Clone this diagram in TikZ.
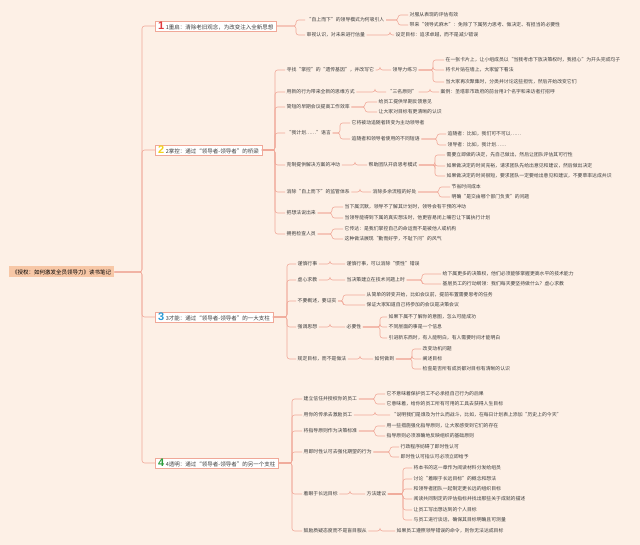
\documentclass[tikz,border=0pt]{standalone}
\usepackage{fontspec}
\setmainfont{Noto Sans CJK SC}
\newfontfamily\numfont{Liberation Sans}
\usetikzlibrary{calc}
\definecolor{bg}{HTML}{FDF0E6}
\definecolor{lk}{HTML}{F0A898}
\definecolor{txt}{HTML}{3C3C3C}
\definecolor{rootfill}{HTML}{F7C7A6}
\definecolor{cA}{HTML}{E03A3E}
\definecolor{cB}{HTML}{F2D21B}
\definecolor{cC}{HTML}{2A9BD6}
\definecolor{cD}{HTML}{2E9E3E}
\newcommand\conn[3]{\draw[link] let \p1=(#1.east) in (\p1) -- (#3,\y1) |- (#2.west);}
\newcommand\dig[2]{{\numfont\bfseries\fontsize{11}{11}\selectfont\color{#1}#2}\hspace{1.5pt}}
\tikzset{
  leaf/.style={anchor=west, inner sep=1.5pt, font=\fontsize{4.85}{5.5}\selectfont, text=txt},
  sec/.style={anchor=west, draw=lk, fill=white, line width=0.4pt, inner xsep=3pt, inner ysep=0.5pt, minimum height=10.5pt, font=\fontsize{5.5}{6}\selectfont, text=txt},
  rootbox/.style={anchor=west, fill=rootfill, inner xsep=3pt, inner ysep=1pt, minimum height=11pt, font=\fontsize{5.5}{6}\selectfont, text=black},
  link/.style={draw=lk, line width=0.55pt, rounded corners=2.5pt},
}
\begin{document}
\begin{tikzpicture}[x=1pt,y=-1pt]
\useasboundingbox (0,0) rectangle (640,545);
\fill[bg] (0,0) rectangle (640,545);

% root
\node[rootbox] (R) at (9,272) {《授权：如何激发全员领导力》读书笔记};

% sections
\node[sec] (S1) at (155,26) {\dig{cA}{1}1重启：清除老旧观念，为改变注入全新思想};
\node[sec] (S2) at (155,150) {\dig{cB}{2}2掌控：通过“领导者-领导者”的桥梁};
\node[sec] (S3) at (155,317) {\dig{cC}{3}3才能：通过“领导者-领导者”的一大支柱};
\node[sec] (S4) at (155,463) {\dig{cD}{4}4透明：通过“领导者-领导者”的另一个支柱};
\foreach \s in {S1,S2,S3,S4} {\conn{R}{\s}{142}}

% ---------- section 1
\node[leaf] (s1a) at (305,20) {“自上而下”的领导模式为何吸引人};
\node[leaf] (s1a1) at (408,15) {对服从表现的评估有效};
\node[leaf] (s1a2) at (408,25) {带来“领导式麻木”：免除了下属努力思考、做决定、有担当的必要性};
\node[leaf] (s1b) at (305,35) {审视认识，对未来进行估量};
\node[leaf] (s1b1) at (394,35) {设定目标：追求卓越，而不是减少错误};
\conn{S1}{s1a}{296}\conn{S1}{s1b}{296}
\conn{s1a}{s1a1}{398}\conn{s1a}{s1a2}{398}
\conn{s1b}{s1b1}{390}

% ---------- section 2
\node[leaf] (s2a) at (285,70) {寻找“掌控”的“遗传基因”，并改写它};
\node[leaf] (s2a1) at (391,70) {领导力练习};
\node[leaf] (s2a1a) at (444,60) {在一张卡片上，让小组成员以“当我考虑下放决策权时，我担心”为开头完成句子};
\node[leaf] (s2a1b) at (444,70) {将卡片贴在墙上，大家留下看法};
\node[leaf] (s2a1c) at (444,82) {当大家再次聚集时，分类并讨论这些担忧，然后开始改变它们};
\node[leaf] (s2b) at (285,92) {用新的行为带来全新的思维方式};
\node[leaf] (s2b1) at (386,92) {“三名原则”};
\node[leaf] (s2b1a) at (439,92) {案例：圣塔菲市政府的前台用3个名字和来访者打招呼};
\node[leaf] (s2c) at (285,107) {简短的早期会议提高工作效率};
\node[leaf] (s2c1) at (377,102) {给员工提供早期反馈意见};
\node[leaf] (s2c2) at (377,112) {让大家对目标有更清晰的认识};
\node[leaf] (s2d) at (285,133) {“我计划……”语言};
\node[leaf] (s2d1) at (350,123) {它将被动追随者转变为主动领导者};
\node[leaf] (s2d2) at (350,139) {追随者和领导者使用的不同短语};
\node[leaf] (s2d2a) at (446,134) {追随者：比如，我们可不可以……};
\node[leaf] (s2d2b) at (446,145) {领导者：比如，我计划……};
\node[leaf] (s2e) at (285,165) {克制提供解决方案的冲动};
\node[leaf] (s2e1) at (367,165) {帮助团队开启思考模式};
\node[leaf] (s2e1a) at (445,155) {需要立即做的决定，先自己做出，然后让团队评估其可行性};
\node[leaf] (s2e1b) at (445,166) {如果做决定的时间充裕，请求团队先给出意见和建议，然后做出决定};
\node[leaf] (s2e1c) at (445,176) {如果做决定的时间很短，要求团队一定要给出意见和建议，不要草率达成共识};
\node[leaf] (s2f) at (285,192) {消除“自上而下”的监管体系};
\node[leaf] (s2f1) at (371,192) {消除多余流程的好处};
\node[leaf] (s2f1a) at (450,187) {节省时间成本};
\node[leaf] (s2f1b) at (450,197) {明确“是交由哪个部门负责”的问题};
\node[leaf] (s2g) at (285,213) {把想法说出来};
\node[leaf] (s2g1) at (343,207) {当下属沉默，领导不了解其计划时，领导会有干预的冲动};
\node[leaf] (s2g2) at (343,218) {当领导能得到下属的真实想法时，他更容易闭上嘴巴让下属执行计划};
\node[leaf] (s2h) at (285,234) {拥抱检查人员};
\node[leaf] (s2h1) at (343,229) {它传达：是我们掌控自己的命运而不是被他人或机构};
\node[leaf] (s2h2) at (343,239) {这种做法展现“勤而好学，不耻下问”的风气};
\foreach \c in {s2a,s2b,s2c,s2d,s2e,s2f,s2g,s2h} {\conn{S2}{\c}{275}}
\conn{s2a}{s2a1}{380}
\foreach \c in {s2a1a,s2a1b,s2a1c} {\conn{s2a1}{\c}{433}}
\conn{s2b}{s2b1}{375}\conn{s2b1}{s2b1a}{430}
\conn{s2c}{s2c1}{365}\conn{s2c}{s2c2}{365}
\conn{s2d}{s2d1}{340}\conn{s2d}{s2d2}{340}
\conn{s2d2}{s2d2a}{437}\conn{s2d2}{s2d2b}{437}
\conn{s2e}{s2e1}{355}
\foreach \c in {s2e1a,s2e1b,s2e1c} {\conn{s2e1}{\c}{435}}
\conn{s2f}{s2f1}{360}
\conn{s2f1}{s2f1a}{439}\conn{s2f1}{s2f1b}{439}
\conn{s2g}{s2g1}{332}\conn{s2g}{s2g2}{332}
\conn{s2h}{s2h1}{332}\conn{s2h}{s2h2}{332}

% ---------- section 3
\node[leaf] (s3a) at (296,264) {谨慎行事};
\node[leaf] (s3a1) at (345,264) {谨慎行事，可以消除“惯性”错误};
\node[leaf] (s3b) at (296,280) {虚心求教};
\node[leaf] (s3b1) at (345,280) {当决策建立在技术问题上时};
\node[leaf] (s3b1a) at (441,274) {给下属更多的决策权，他们必须能够掌握更高水平的技术能力};
\node[leaf] (s3b1b) at (441,284) {基层员工的行动纲领：我们每天要坚持做什么？虚心求教};
\node[leaf] (s3c) at (296,301) {不要概述，要证实};
\node[leaf] (s3c1) at (365,295) {从简单的转变开始，比如会议前，提前布置需要思考的任务};
\node[leaf] (s3c2) at (365,305) {保证大家知道自己将参加的会议是决策会议};
\node[leaf] (s3d) at (296,327) {强调思想};
\node[leaf] (s3d1) at (345,327) {必要性};
\node[leaf] (s3d1a) at (387,317) {如果下属不了解你的意图，怎么可能成功};
\node[leaf] (s3d1b) at (387,327) {不同层面的事是一个信息};
\node[leaf] (s3d1c) at (387,338) {引进新东西时，有人能明白，有人需要时间才能明白};
\node[leaf] (s3e) at (296,359) {规定目标，而不是做法};
\node[leaf] (s3e1) at (373,359) {如何做到};
\node[leaf] (s3e1a) at (421,349) {改变动机问题};
\node[leaf] (s3e1b) at (421,359) {阐述目标};
\node[leaf] (s3e1c) at (421,369) {检查是否所有成员都对目标有清晰的认识};
\foreach \c in {s3a,s3b,s3c,s3d,s3e} {\conn{S3}{\c}{287}}
\conn{s3a}{s3a1}{330}
\conn{s3b}{s3b1}{330}
\conn{s3b1}{s3b1a}{422}\conn{s3b1}{s3b1b}{422}
\conn{s3c}{s3c1}{343}\conn{s3c}{s3c2}{343}
\conn{s3d}{s3d1}{330}
\foreach \c in {s3d1a,s3d1b,s3d1c} {\conn{s3d1}{\c}{380}}
\conn{s3e}{s3e1}{360}
\foreach \c in {s3e1a,s3e1b,s3e1c} {\conn{s3e1}{\c}{412}}

% ---------- section 4
\node[leaf] (s4a) at (302,399) {建立信任并授权你的员工};
\node[leaf] (s4a1) at (385,394) {它不意味着保护员工不必承担自己行为的后果};
\node[leaf] (s4a2) at (385,404) {它意味着，给你的员工所有可用的工具去获得人生目标};
\node[leaf] (s4b) at (302,415) {用你的传承去激励员工};
\node[leaf] (s4b1) at (390,415) {“说明我们是谁及为什么而战斗，比如，在每日计划表上添加“历史上的今天”};
\node[leaf] (s4c) at (302,431) {将指导原则作为决策标准};
\node[leaf] (s4c1) at (385,426) {用一些措施强化指导原则，让大家感受到它们的存在};
\node[leaf] (s4c2) at (385,436) {指导原则必须准确地反映组织的基础原则};
\node[leaf] (s4d) at (302,452) {用即时性认可去强化期望的行为};
\node[leaf] (s4d1) at (399,447) {行政程序妨碍了即时性认可};
\node[leaf] (s4d2) at (399,457) {即时性认可指认可必须立即给予};
\node[leaf] (s4e) at (302,494) {着眼于长远目标};
\node[leaf] (s4e1) at (365,494) {方法建议};
\node[leaf] (s4e1a) at (412,468) {将本书的这一章作为阅读材料分发给组员};
\node[leaf] (s4e1b) at (412,479) {讨论“着眼于长远目标”的概念和想法};
\node[leaf] (s4e1c) at (412,489) {和领导者团队一起制定更长远的组织目标};
\node[leaf] (s4e1d) at (412,499) {阅读共同制定的评估指标并找出那些关于成就的描述};
\node[leaf] (s4e1e) at (412,510) {让员工写出想达到的个人目标};
\node[leaf] (s4e1f) at (412,520) {与员工进行谈话，确保其目标明确且可测量};
\node[leaf] (s4f) at (302,531) {鼓励质疑态度而不是盲目服从};
\node[leaf] (s4f1) at (395,531) {如果员工遵照领导错误的命令，则你无法达成目标};
\foreach \c in {s4a,s4b,s4c,s4d,s4e,s4f} {\conn{S4}{\c}{292}}
\conn{s4a}{s4a1}{375}\conn{s4a}{s4a2}{375}
\conn{s4b}{s4b1}{375}
\conn{s4c}{s4c1}{375}\conn{s4c}{s4c2}{375}
\conn{s4d}{s4d1}{390}\conn{s4d}{s4d2}{390}
\conn{s4e}{s4e1}{350}
\foreach \c in {s4e1a,s4e1b,s4e1c,s4e1d,s4e1e,s4e1f} {\conn{s4e1}{\c}{403}}
\conn{s4f}{s4f1}{380}
\end{tikzpicture}
\end{document}
